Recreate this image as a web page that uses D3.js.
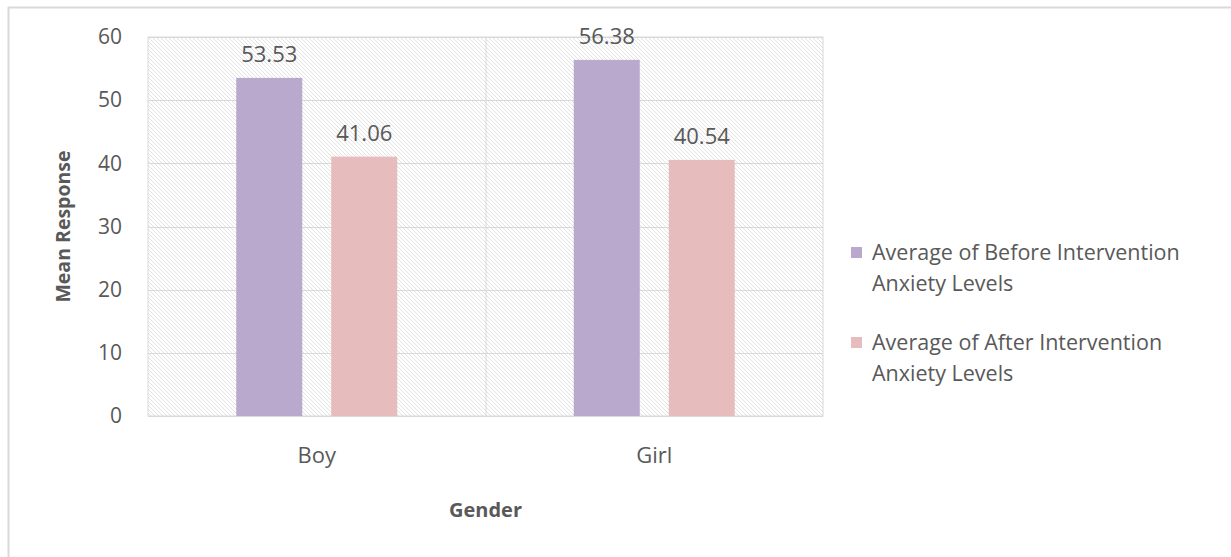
<!DOCTYPE html>
<html lang="en">
<head>
<meta charset="UTF-8">
<title>Mean Response by Gender</title>
<script src="https://d3js.org/d3.v7.min.js"></script>
<style>
    html, body { margin: 0; background: #fff; }
    text { font-family: "Open Sans", "Noto Sans", sans-serif; fill: #595959; }
</style>
</head>
<body>
<div id="vis"></div>
<script>
// data
var genders = ["Boy", "Girl"];
var series = ["Average of Before Intervention Anxiety Levels", "Average of After Intervention Anxiety Levels"];
var legendLines = [["Average of Before Intervention", "Anxiety Levels"], ["Average of After Intervention", "Anxiety Levels"]];
var beforeValues = [53.53, 56.38];
var afterValues = [41.06, 40.54];
var yTicks = [0, 10, 20, 30, 40, 50, 60];
var colours = ["#b9a9cd", "#e7bcbc"];

var W = 1231, H = 557;
var margin = {top: 37, left: 148, right: 408, bottom: 141};
var width = W - margin.left - margin.right;
var height = H - margin.top - margin.bottom;

var svg = d3.select('#vis').append('svg')
    .attr('width', W)
    .attr('height', H);

// hatch pattern for the plot area
var defs = svg.append('defs');
var pat = defs.append('pattern')
    .attr('id', 'hatch')
    .attr('patternUnits', 'userSpaceOnUse')
    .attr('width', 4)
    .attr('height', 4);
pat.append('rect').attr('width', 4).attr('height', 4).attr('fill', '#fff');
pat.append('path')
    .attr('d', 'M-1,-1 L5,5 M-1,3 L1,5 M3,-1 L5,1')
    .attr('stroke', '#e2e2e2')
    .attr('stroke-width', 1);

// outer frame
svg.append('rect')
    .attr('x', 8.5).attr('y', 7.5)
    .attr('width', W).attr('height', H)
    .attr('fill', 'none')
    .attr('stroke', '#d9d9d9')
    .attr('stroke-width', 2);

var g = svg.append('g')
    .attr('transform', 'translate(' + margin.left + ',' + margin.top + ')');

var x0 = d3.scaleBand().domain(genders).range([0, width]);
var x1 = d3.scaleBand().domain(series).range([0, 161]).paddingInner(0.305);
var y = d3.scaleLinear().domain([0, 60]).range([height, 0]);

g.append('rect')
    .attr('width', width).attr('height', height)
    .attr('fill', 'url(#hatch)')
    .attr('stroke', '#d9d9d9');

// gridlines
g.selectAll('.grid').data(yTicks).enter().append('line')
    .attr('class', 'grid')
    .attr('x1', 0).attr('x2', width)
    .attr('y1', function(d) { return Math.round(y(d)) + 0.5; })
    .attr('y2', function(d) { return Math.round(y(d)) + 0.5; })
    .attr('stroke', '#d9d9d9');

g.append('line')
    .attr('x1', x0.step() + 0.5).attr('x2', x0.step() + 0.5)
    .attr('y1', 0).attr('y2', height)
    .attr('stroke', '#d9d9d9');

// y axis
var yAxis = g.append('g')
    .call(d3.axisLeft(y).tickValues(yTicks).tickSize(0).tickPadding(26));
yAxis.select('.domain').remove();
yAxis.selectAll('text')
    .style('font-size', '21px')
    .attr('fill', '#595959');

// x axis
var xAxis = g.append('g')
    .attr('transform', 'translate(0,' + height + ')')
    .call(d3.axisBottom(x0).tickSize(0).tickPadding(31));
xAxis.select('.domain').remove();
xAxis.selectAll('text')
    .style('font-size', '22px')
    .attr('fill', '#595959');

var rows = genders.map(function(gd, i) {
    return {gender: gd, values: [beforeValues[i], afterValues[i]]};
});

var groups = g.selectAll('.grp').data(rows).enter().append('g')
    .attr('class', 'grp')
    .attr('transform', function(d) {
        return 'translate(' + (x0(d.gender) + x0.bandwidth() / 2 - 80.5) + ',0)';
    });

groups.selectAll('rect').data(function(d) {
        return d.values.map(function(v, j) { return {s: series[j], v: v, j: j}; });
    }).enter().append('rect')
    .attr('x', function(d) { return x1(d.s); })
    .attr('width', x1.bandwidth())
    .attr('y', function(d) { return y(d.v); })
    .attr('height', function(d) { return height - y(d.v); })
    .attr('fill', function(d) { return colours[d.j]; });

groups.selectAll('.lbl').data(function(d) {
        return d.values.map(function(v, j) { return {s: series[j], v: v}; });
    }).enter().append('text')
    .attr('class', 'lbl')
    .attr('x', function(d) { return x1(d.s) + x1.bandwidth() / 2; })
    .attr('y', function(d) { return y(d.v) - 16; })
    .attr('text-anchor', 'middle')
    .style('font-size', '22px')
    .attr('fill', '#404040')
    .text(function(d) { return d.v.toFixed(2); });

// axis titles
svg.append('text')
    .attr('transform', 'translate(70,' + (margin.top + height / 2) + ') rotate(-90)')
    .attr('text-anchor', 'middle')
    .style('font-size', '19.5px')
    .style('font-weight', 'bold')
    .text('Mean Response');

svg.append('text')
    .attr('x', margin.left + width / 2)
    .attr('y', 517)
    .attr('text-anchor', 'middle')
    .style('font-size', '20px')
    .style('font-weight', 'bold')
    .text('Gender');

// legend
var legend = svg.selectAll('.leg').data(series).enter().append('g')
    .attr('class', 'leg')
    .attr('transform', function(d, i) { return 'translate(851,' + (247 + i * 90) + ')'; });

legend.append('rect')
    .attr('width', 11).attr('height', 11)
    .attr('fill', function(d, i) { return colours[i]; });

legend.append('text')
    .attr('y', 13)
    .style('font-size', '21.5px')
    .selectAll('tspan').data(function(d, i) { return legendLines[i]; })
    .enter().append('tspan')
    .attr('x', 21)
    .attr('dy', function(d, k) { return k === 0 ? 0 : 31; })
    .text(function(d) { return d; });
</script>
</body>
</html>
